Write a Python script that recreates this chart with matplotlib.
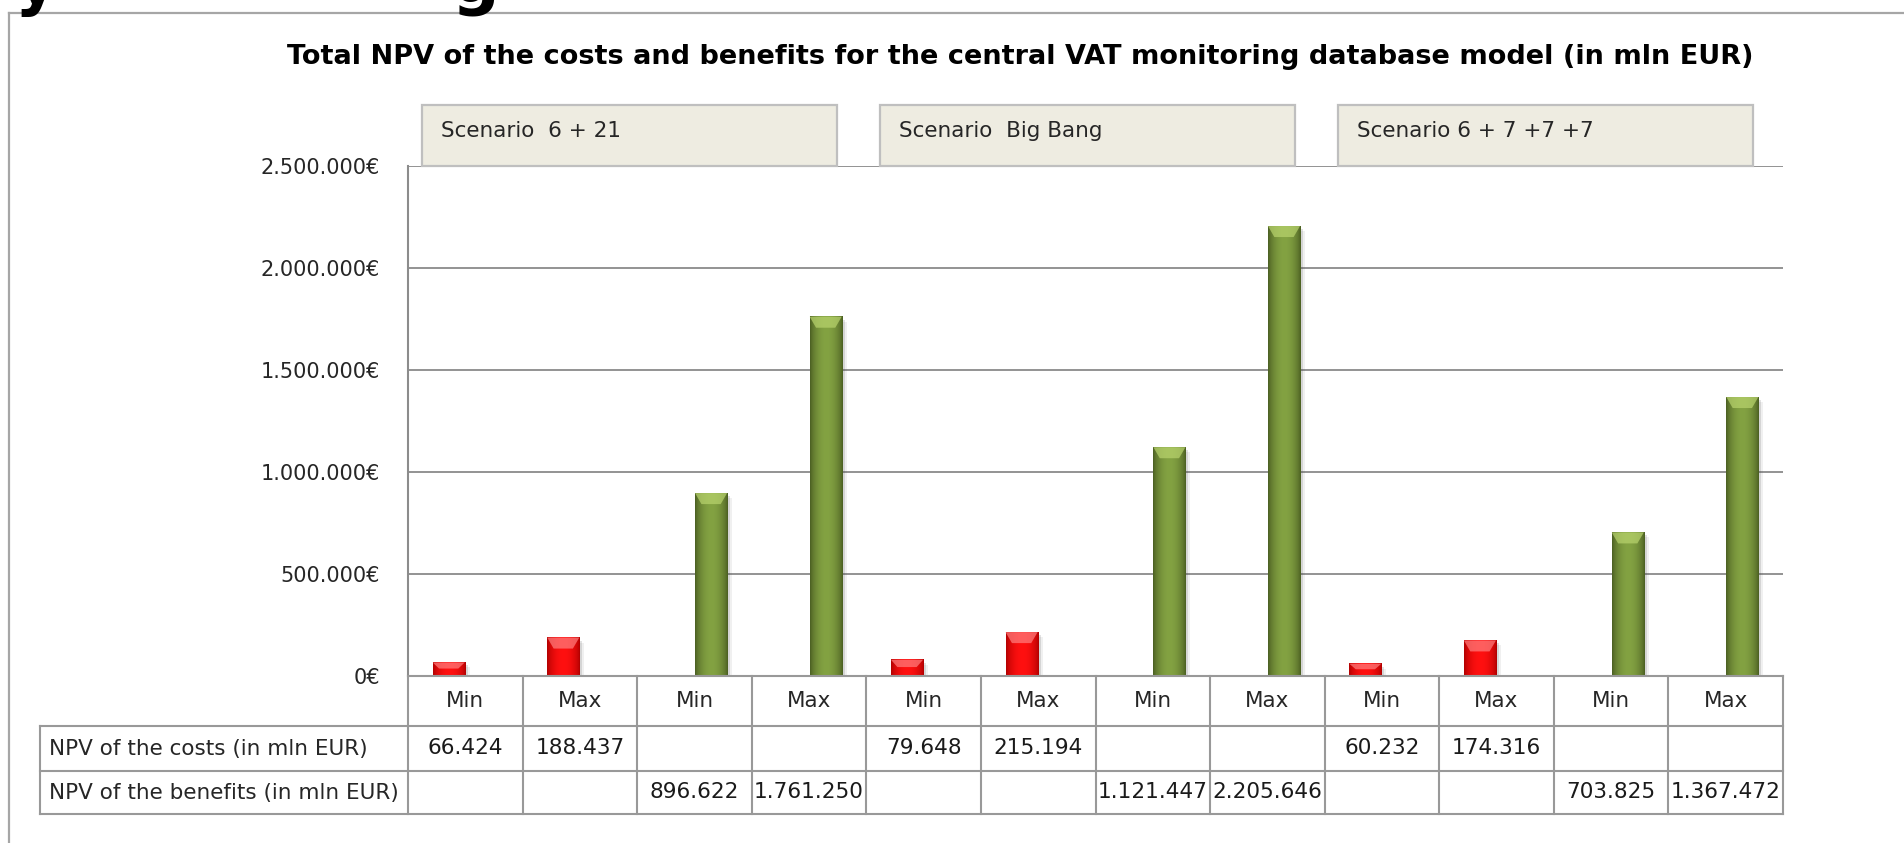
import numpy as np
import matplotlib
matplotlib.use("Agg")
from matplotlib import pyplot as plt
from matplotlib.patches import Rectangle, Polygon
from matplotlib.transforms import blended_transform_factory
from matplotlib.ticker import FuncFormatter

# data (values in the table / bar heights)
title = "Total NPV of the costs and benefits for the central VAT monitoring database model (in mln EUR)"
scenarios = ["Scenario  6 + 21", "Scenario  Big Bang", "Scenario 6 + 7 +7 +7"]
categories = ["Min", "Max", "Min", "Max"] * 3
row_labels = ["NPV of the costs (in mln EUR)", "NPV of the benefits (in mln EUR)"]
costs = [66424, 188437, None, None, 79648, 215194, None, None, 60232, 174316, None, None]
benefits = [None, None, 896622, 1761250, None, None, 1121447, 2205646, None, None, 703825, 1367472]
yticks = [0, 500000, 1000000, 1500000, 2000000, 2500000]

W, H = 1904, 843
plt.rcParams['font.family'] = ['DejaVu Sans']

def fx(px):
    return px / W

def fy(py):
    return 1 - py / H

def euro(v):
    return f"{int(v):,}".replace(",", ".")

fig = plt.figure(figsize=(W / 100, H / 100), dpi=100)

# outer frame (only top and left visible)
fig.add_artist(plt.Line2D([fx(9), fx(9)], [fy(13), 0], color="#a6a6a6", lw=1.6))
fig.add_artist(plt.Line2D([fx(9), 1], [fy(13), fy(13)], color="#a6a6a6", lw=1.6))

# cut off heading above the chart (only descenders visible)
fig.text(fx(14), 1 - 2 / H, "y", fontsize=48, weight="bold", va="baseline")
fig.text(fx(452), 1 - 2 / H, "g", fontsize=48, weight="bold", va="baseline")

fig.text(fx(1020), fy(57), title, ha="center", va="center", fontsize=19.5, weight="bold", color="#000000")

ax_l, ax_r, ax_t, ax_b = 408, 1783, 166, 676
ax = fig.add_axes([fx(ax_l), fy(ax_b), fx(ax_r - ax_l), (ax_b - ax_t) / H])
ax.set_facecolor("none")
col_px = (ax_r - ax_l) / 12.0
y_px = 2500000 / (ax_b - ax_t)

for t in yticks:
    ax.axhline(t, color="#939393", lw=1.4, zorder=1)
for s in ["top", "right", "bottom"]:
    ax.spines[s].set_visible(False)
ax.spines["left"].set_color("#8c8c8c")
ax.spines["left"].set_linewidth(1.5)
ax.set_yticks(yticks)
ax.yaxis.set_major_formatter(FuncFormatter(lambda v, p: euro(v) + "€"))
ax.tick_params(axis="y", length=0, pad=20, labelsize=15, labelcolor="#262626")
ax.set_xticks([])

bw = 0.28
off = 0.145
x = np.arange(len(categories))


def shade(p, edge, mid, light):
    x0, w, h = p.get_x(), p.get_width(), p.get_height()
    # soft shadow
    for k, a in [(5, 0.08), (3, 0.15)]:
        ax.add_patch(Rectangle((x0 + k / col_px, 0), w, max(h - k * y_px, 0),
                               color="#404040", alpha=a, lw=0, zorder=2.5))
    t = np.linspace(0, 1, 60)
    prof = np.sin(np.pi * t) ** 0.7
    edge = np.array(matplotlib.colors.to_rgb(edge))
    mid = np.array(matplotlib.colors.to_rgb(mid))
    cols = edge[None, :] * (1 - prof[:, None]) + mid[None, :] * prof[:, None]
    ax.imshow(cols[None], extent=[x0, x0 + w, 0, h], aspect="auto",
              interpolation="bilinear", zorder=3.1)
    dy = min(11 * y_px, h * 0.45)
    ax.add_patch(Polygon([(x0, h), (x0 + w, h), (x0 + w * 0.8, h - dy), (x0 + w * 0.2, h - dy)],
                         closed=True, color=light, alpha=0.7, lw=0, zorder=3.2))


ci = [i for i, v in enumerate(costs) if v is not None]
bi = [i for i, v in enumerate(benefits) if v is not None]
bars_c = ax.bar(x[ci] - off, [costs[i] for i in ci], width=bw, color="#ff0000", zorder=3)
bars_b = ax.bar(x[bi] + off, [benefits[i] for i in bi], width=bw, color="#76923c", zorder=3)
for p in bars_c:
    shade(p, "#b00000", "#ff1010", "#ff8080")
for p in bars_b:
    shade(p, "#4a5e22", "#83a242", "#b9d46e")

ax.set_xlim(-0.5, 11.5)
ax.set_ylim(0, 2500000)

# scenario header boxes
tr = blended_transform_factory(ax.transData, ax.transAxes)
ah = ax_b - ax_t
for g, name in enumerate(scenarios):
    start = 4 * g - 0.5
    ax.add_patch(Rectangle((start + 0.12, 1.0), 3.62, 61 / ah, transform=tr, clip_on=False,
                           facecolor="#eeece1", edgecolor="#bfbfbf", lw=1.6, zorder=4))
    ax.text(start + 0.12 + 19 / col_px, 1 + 35 / ah, name, transform=tr, ha="left", va="center",
            fontsize=15.5, color="#262626", zorder=5, clip_on=False)

# data table under the axis
grid_c = "#999999"
rows = [676, 726, 771, 814]
ya = [(ax_b - r) / ah for r in rows]
lab_left = -0.5 - (ax_l - 40) / col_px
for k in range(4):
    xl = -0.5 if k == 0 else lab_left
    ax.plot([xl, 11.5], [ya[k], ya[k]], transform=tr, clip_on=False, color=grid_c, lw=1.5, zorder=4)
for i in range(13):
    ax.plot([i - 0.5, i - 0.5], [ya[0], ya[3]], transform=tr, clip_on=False, color=grid_c, lw=1.5, zorder=4)
ax.plot([lab_left, lab_left], [ya[1], ya[3]], transform=tr, clip_on=False, color=grid_c, lw=1.5, zorder=4)

for i, c in enumerate(categories):
    ax.text(i, (ya[0] + ya[1]) / 2, c, transform=tr, ha="center", va="center",
            fontsize=15.5, color="#262626", clip_on=False)
for r, (lab, vals) in enumerate(zip(row_labels, [costs, benefits])):
    yc = (ya[r + 1] + ya[r + 2]) / 2
    ax.text(lab_left + 9 / col_px, yc, lab, transform=tr, ha="left", va="center",
            fontsize=15.5, color="#262626", clip_on=False)
    for i, v in enumerate(vals):
        if v is not None:
            ax.text(i, yc, euro(v), transform=tr, ha="center", va="center",
                    fontsize=15.6, color="#1a1a1a", clip_on=False)

fig.savefig("out.png", dpi=100)
